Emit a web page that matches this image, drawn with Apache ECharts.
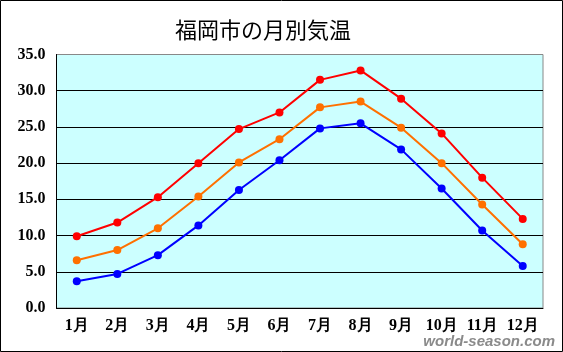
<!DOCTYPE html>
<html>
<head>
<meta charset="utf-8">
<script src="https://cdn.jsdelivr.net/npm/echarts@6/dist/echarts.min.js"></script>
<style>
  html, body { margin: 0; padding: 0; background: #fff; }
  #chart { width: 563px; height: 352px; }
</style>
</head>
<body>
<div id="chart"></div>
<script>
  // 福岡市の月別気温 (℃)
  const months = ['1月', '2月', '3月', '4月', '5月', '6月', '7月', '8月', '9月', '10月', '11月', '12月']
  const highTemps = [9.9, 11.8, 15.3, 20.0, 24.7, 27.0, 31.5, 32.8, 28.9, 24.1, 18.0, 12.3]
  const meanTemps = [6.6, 8.0, 11.0, 15.4, 20.1, 23.3, 27.7, 28.5, 24.9, 20.0, 14.3, 8.8]
  const lowTemps = [3.7, 4.7, 7.3, 11.4, 16.3, 20.4, 24.8, 25.5, 21.9, 16.5, 10.7, 5.8]

  const chart = echarts.init(document.getElementById('chart'))

  function lineSeries(name, data, color) {
    return {
      name: name,
      type: 'line',
      data: data,
      symbol: 'circle',
      symbolSize: 8,
      lineStyle: { color: color, width: 2 },
      itemStyle: { color: color },
      animation: false
    }
  }

  const option = {
    backgroundColor: '#fff',
    title: {
      text: '福岡市の月別気温',
      left: 170,
      top: 14,
      textStyle: {
        fontFamily: 'Noto Sans CJK JP',
        fontSize: 22,
        fontWeight: 'normal',
        color: '#000'
      }
    },
    grid: {
      left: 56.5,
      right: 20,
      top: 54.5,
      bottom: 44,
      show: true,
      backgroundColor: '#ccffff',
      borderColor: '#888',
      borderWidth: 1
    },
    xAxis: {
      type: 'category',
      data: months,
      boundaryGap: true,
      axisLine: { lineStyle: { color: '#000', width: 1 } },
      axisTick: { inside: true, length: 5, lineStyle: { color: '#000' } },
      axisLabel: {
        interval: 0,
        color: '#000',
        fontFamily: 'Liberation Serif',
        fontWeight: 'bold',
        fontSize: 16,
        margin: 10
      }
    },
    yAxis: {
      type: 'value',
      min: 0,
      max: 35,
      interval: 5,
      axisLine: { show: true, lineStyle: { color: '#000', width: 1 } },
      axisTick: { show: false },
      splitLine: {
        lineStyle: {
          color: ['#000', '#000', '#000', '#000', '#000', '#000', '#000', '#888'],
          width: 1
        }
      },
      axisLabel: {
        color: '#000',
        fontFamily: 'Liberation Serif',
        fontWeight: 'bold',
        fontSize: 16,
        margin: 11,
        formatter: v => v.toFixed(1)
      }
    },
    series: [
      lineSeries('最高気温', highTemps, '#ff0000'),
      lineSeries('平均気温', meanTemps, '#ff7000'),
      lineSeries('最低気温', lowTemps, '#0000ff')
    ],
    graphic: [
      {
        type: 'rect',
        shape: { x: 0.5, y: 0.5, width: 562, height: 351 },
        style: { fill: null, stroke: '#000', lineWidth: 1 },
        silent: true
      },
      {
        type: 'text',
        right: 8,
        bottom: 3,
        style: {
          text: 'world-season.com',
          fill: '#8a8a8a',
          font: 'italic bold 15px "Liberation Sans"'
        },
        silent: true
      }
    ]
  }

  chart.setOption(option)
</script>
</body>
</html>
